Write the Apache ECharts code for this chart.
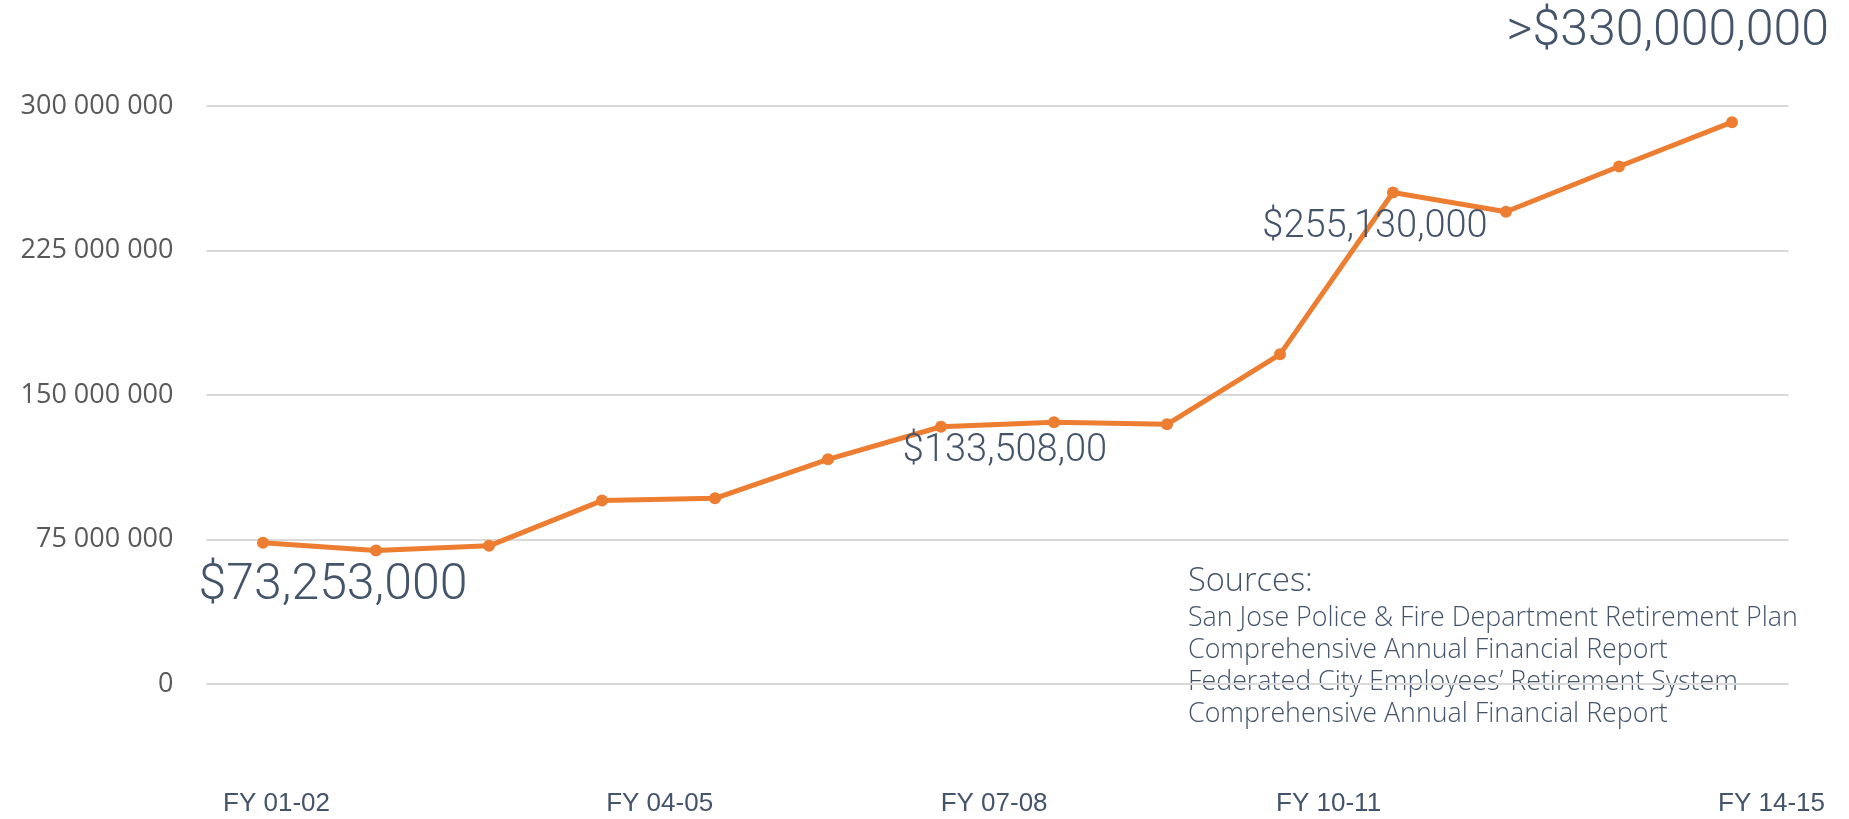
<!DOCTYPE html>
<html>
<head>
<meta charset="utf-8">
<script src="https://cdn.jsdelivr.net/npm/echarts@6/dist/echarts.min.js"></script>
<style>
  html,body{margin:0;padding:0;background:#fff;}
  #main{width:1849px;height:819px;}
</style>
</head>
<body>
<div id="main"></div>
<script>
// fiscal years, one per point
var categories = ["FY 01-02","FY 02-03","FY 03-04","FY 04-05","FY 05-06","FY 06-07","FY 07-08",
                  "FY 08-09","FY 09-10","FY 10-11","FY 11-12","FY 12-13","FY 13-14","FY 14-15"];
// cost in dollars
var costValues = [73253000, 69300000, 71700000, 95200000, 96400000, 116600000, 133508000,
                  135900000, 134800000, 171100000, 255130000, 245100000, 268600000, 291600000];
// bottom labels, placed loosely under the years
var xTickLabels = ["FY 01-02","FY 04-05","FY 07-08","FY 10-11","FY 14-15"];
var xTickAt = [0.12, 3.51, 6.47, 9.43, 13.35];
var yTicks = [0, 75000000, 150000000, 225000000, 300000000];
// callouts on the line
var calloutIndex = [0, 6, 10];
var calloutText = ["$73,253,000", "$133,508,00", "$255,130,000"];
var topNote = ">$330,000,000";
var sourceLines = ["San Jose Police & Fire Department Retirement Plan",
                   "Comprehensive Annual Financial Report",
                   "Federated City Employees\u2019 Retirement System",
                   "Comprehensive Annual Financial Report"];

var myChart = echarts.init(document.getElementById('main'));
var slate = "#44546a";
var calloutStyle = [
  {offset:[70, 44], fontSize:50},
  {offset:[64, 25], fontSize:38},
  {offset:[-18, 35], fontSize:38}
];

var spaced = function(v){
  return String(v).replace(/\B(?=(\d{3})+(?!\d))/g, " ");
};

var seriesData = [];
for (var i = 0; i < costValues.length; i++) {
  var k = calloutIndex.indexOf(i);
  if (k >= 0) {
    seriesData.push({
      value: costValues[i],
      label: {
        show: true,
        position: 'inside',
        formatter: calloutText[k],
        offset: calloutStyle[k].offset,
        fontSize: calloutStyle[k].fontSize,
        fontFamily: "Roboto",
        fontWeight: 300,
        color: slate
      }
    });
  } else {
    seriesData.push(costValues[i]);
  }
}

var srcText = "{h|Sources:}";
for (var j = 0; j < sourceLines.length; j++) {
  srcText += "\n{b|" + sourceLines[j] + "}";
}

options = {
  animation: false,
  title: {
    text: topNote,
    right: 15,
    top: 2,
    textStyle: {fontFamily: "Roboto", fontWeight: 300, fontSize: 50, color: slate}
  },
  grid: {left: 206.5, right: 60.5, top: 106, bottom: 135},
  xAxis: [
    {
      type: 'category',
      data: categories,
      boundaryGap: true,
      axisLine: {show: false},
      axisTick: {show: false},
      axisLabel: {show: false},
      splitLine: {show: false}
    },
    {
      type: 'value',
      min: -0.5,
      max: 13.5,
      position: 'bottom',
      axisLine: {show: false},
      axisTick: {show: false},
      splitLine: {show: false},
      axisLabel: {
        customValues: xTickAt,
        margin: 107,
        fontSize: 26,
        fontFamily: "Liberation Sans",
        color: slate,
        formatter: function(v){
          var best = 0;
          for (var t = 0; t < xTickAt.length; t++) {
            if (Math.abs(xTickAt[t] - v) < Math.abs(xTickAt[best] - v)) best = t;
          }
          return xTickLabels[best];
        }
      }
    }
  ],
  yAxis: {
    type: 'value',
    min: yTicks[0],
    max: yTicks[yTicks.length - 1],
    interval: yTicks[1] - yTicks[0],
    axisLine: {show: false},
    axisTick: {show: false},
    splitLine: {lineStyle: {color: "#d9d9d9", width: 2}},
    axisLabel: {
      margin: 33,
      fontSize: 27,
      fontFamily: "Open Sans",
      color: "#595959",
      formatter: spaced
    }
  },
  graphic: [
    {
      type: 'text',
      left: 1188,
      top: 565,
      style: {
        text: srcText,
        fill: slate,
        rich: {
          h: {fontFamily: "Open Sans", fontWeight: 300, fontSize: 32.5, lineHeight: 42, fill: slate},
          b: {fontFamily: "Open Sans", fontWeight: 300, fontSize: 26.8, lineHeight: 32, fill: slate}
        }
      }
    }
  ],
  series: [
    {
      name: 'cost',
      type: 'line',
      xAxisIndex: 0,
      symbol: "circle",
      symbolSize: 12,
      lineStyle: {color: "#ed7d31", width: 5},
      itemStyle: {color: "#ed7d31"},
      data: seriesData
    }
  ]
};

myChart.setOption(options);
</script>
</body>
</html>
